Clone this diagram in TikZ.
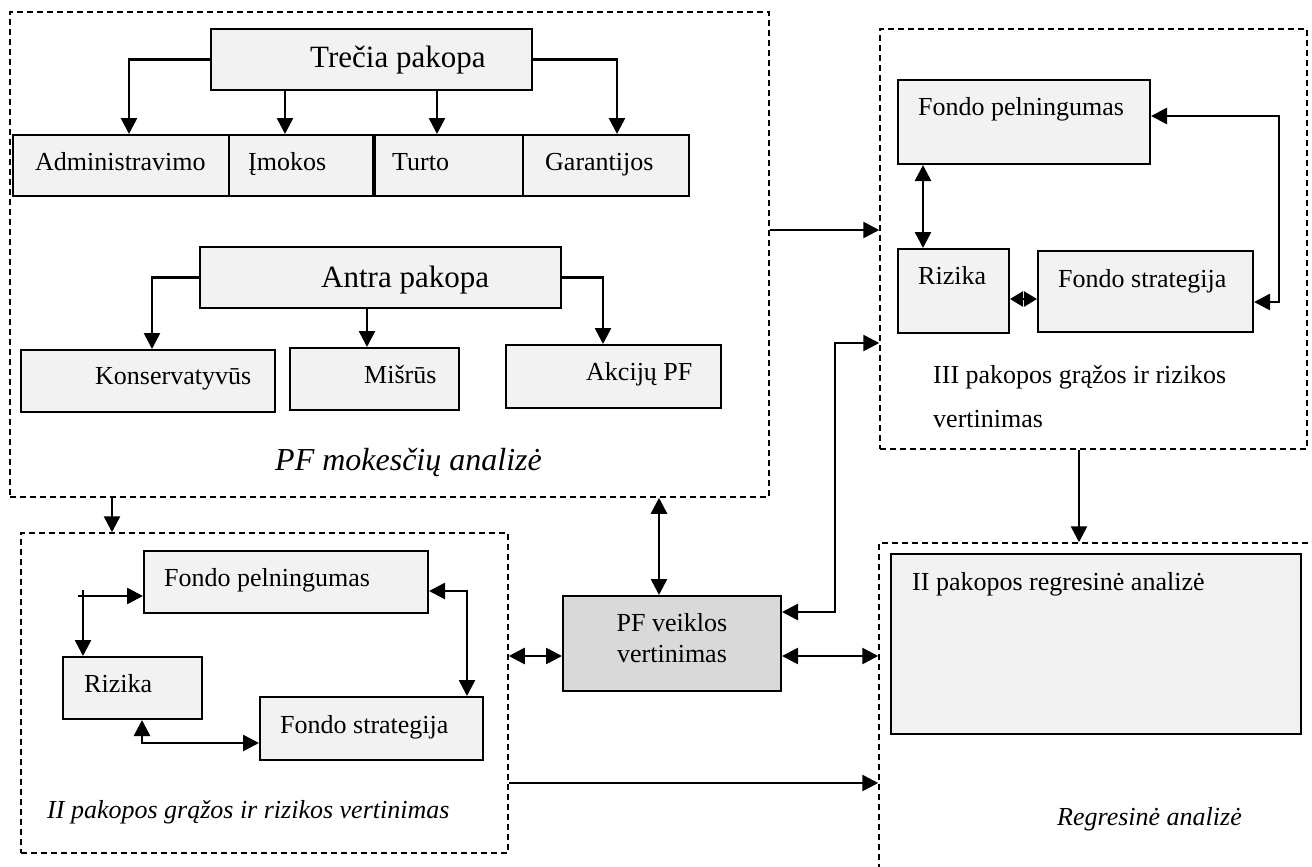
\documentclass[tikz,border=0pt]{standalone}
\usepackage{fontspec}
\setmainfont{Liberation Serif}
\usetikzlibrary{arrows.meta,fit,calc}
\definecolor{boxfill}{HTML}{F2F2F2}
\definecolor{pfvfill}{HTML}{D9D9D9}
\begin{document}
\begin{tikzpicture}[x=1pt,y=-1pt,
  box/.style={draw,line width=2pt,fill=boxfill,inner sep=0pt},
  grp/.style={draw,line width=1.5pt,dash pattern=on 6pt off 4pt,inner sep=0pt},
  arr/.style={line width=2.6pt,-{Triangle[length=16pt,width=16pt]}},
  darr/.style={line width=2.6pt,{Triangle[length=16pt,width=16pt]}-{Triangle[length=16pt,width=16pt]}},
  sdarr/.style={line width=2.6pt,{Triangle[length=13pt,width=15pt]}-{Triangle[length=13pt,width=15pt]}},
  txt/.style={inner sep=0pt,anchor=base west,font=\fontsize{26}{30}\selectfont},
  big/.style={inner sep=0pt,anchor=base west,font=\fontsize{31}{36}\selectfont},
  itx/.style={inner sep=0pt,anchor=base west,font=\fontsize{26}{30}\selectfont\itshape},
  ibig/.style={inner sep=0pt,anchor=base west,font=\fontsize{32}{36}\selectfont\itshape}]
\useasboundingbox (0,0) rectangle (1312,867);
\clip (0,0) rectangle (1312,867);

% group frames
\node[grp,fit={(10,12) (769,497)}] (g1) {};
\node[grp,fit={(21,533) (508,853)}] (g2) {};
\node[grp,fit={(880,29) (1307,449)}] (g3) {};
\node[grp,fit={(879,543) (1340,890)}] (g4) {};

% PF mokesciu analize
\node[box,fit={(211,29) (532,90)}] (t3) {};
\node[big] (t3t) at (310,68) {Trečia pakopa};
\node[box,fit={(13,135) (229,196)}] (adm) {};
\node[txt] (admt) at (35,170) {Administravimo};
\node[box,fit={(229,135) (373,196)}] (imk) {};
\node[txt] (imkt) at (248,170) {Įmokos};
\node[box,fit={(375,135) (523,196)}] (tur) {};
\node[txt] (turt) at (392,170) {Turto};
\node[box,fit={(523,135) (689,196)}] (gar) {};
\node[txt] (gart) at (545,170) {Garantijos};

\node[box,fit={(200,247) (561,308)}] (a2) {};
\node[big] (a2t) at (321,287) {Antra pakopa};
\node[box,fit={(21,350) (275,412)}] (kon) {};
\node[txt] (kont) at (95,384) {Konservatyvūs};
\node[box,fit={(290,348) (459,410)}] (mis) {};
\node[txt] (mist) at (364,383) {Mišrūs};
\node[box,fit={(506,345) (721,408)}] (akc) {};
\node[txt] (akct) at (586,380) {Akcijų PF};
\node[ibig] (g1t) at (275,470) {PF mokesčių analizė};

% III pakopa
\node[box,fit={(898,80) (1150,164)}] (fp3) {};
\node[txt] (fp3t) at (918,115) {Fondo pelningumas};
\node[box,fit={(898,249) (1009,333)}] (r3) {};
\node[txt] (r3t) at (918,284) {Rizika};
\node[box,fit={(1038,251) (1253,332)}] (fs3) {};
\node[txt] (fs3t) at (1058,287) {Fondo strategija};
\node[txt] (g3t1) at (933,383) {III pakopos grąžos ir rizikos};
\node[txt] (g3t2) at (933,427) {vertinimas};

% II pakopa
\node[box,fit={(144,551) (428,613)}] (fp2) {};
\node[txt] (fp2t) at (164,586) {Fondo pelningumas};
\node[box,fit={(63,657) (202,719)}] (r2) {};
\node[txt] (r2t) at (84,692) {Rizika};
\node[box,fit={(260,697) (483,760)}] (fs2) {};
\node[txt] (fs2t) at (280,733) {Fondo strategija};
\node[itx] (g2t) at (47,818) {II pakopos grąžos ir rizikos vertinimas};

% PF veiklos vertinimas
\node[box,fill=pfvfill,fit={(563,596) (781,691)}] (pfv) {};
\node[inner sep=0pt,anchor=base,font=\fontsize{26}{30}\selectfont] (pfvt1) at (672,631) {PF veiklos};
\node[inner sep=0pt,anchor=base,font=\fontsize{26}{30}\selectfont] (pfvt2) at (672,662) {vertinimas};

% regresine analize
\node[box,fit={(891,554) (1301,734)}] (reg) {};
\node[txt] (regt) at (912,590) {II pakopos regresinė analizė};
\node[itx] (g4t) at (1057,825) {Regresinė analizė};

% guide coordinates
\coordinate (xA) at (129,0);
\coordinate (xB) at (285,0);
\coordinate (xC) at (437,0);
\coordinate (xD) at (617,0);
\coordinate (xE) at (152,0);
\coordinate (xF) at (367,0);
\coordinate (xG) at (603,0);
\coordinate (xH) at (112,0);
\coordinate (xI) at (659,0);
\coordinate (xK) at (1079,0);
\coordinate (xL) at (923,0);
\coordinate (xM) at (1279,0);
\coordinate (xO) at (467,0);
\coordinate (xP) at (142,0);
\coordinate (yA) at (0,230);
\coordinate (yB) at (0,343);
\coordinate (yC) at (0,612);
\coordinate (yD) at (0,656);
\coordinate (yF) at (0,783);
\coordinate (yG) at (0,116);
\coordinate (yH) at (0,302);
\coordinate (yI) at (0,299);
\coordinate (yK) at (0,591);
\coordinate (yL) at (0,743);
\coordinate (tj) at (83,590);
\coordinate (tk) at (78,596);
\coordinate (rb) at (835,343);

% tree arrows
\draw[arr] (t3.west) -| (adm.north -| xA);
\draw[arr] (t3.south -| xB) -- (imk.north -| xB);
\draw[arr] (t3.south -| xC) -- (tur.north -| xC);
\draw[arr] (t3.east) -| (gar.north -| xD);
\draw[arr] (a2.west) -| (kon.north -| xE);
\draw[arr] (a2.south -| xF) -- (mis.north -| xF);
\draw[arr] (a2.east) -| (akc.north -| xG);

% between groups
\draw[arr] (g1.south -| xH) -- (g2.north -| xH);
\draw[darr] (g1.south -| xI) -- (pfv.north -| xI);
\draw[darr] (g2.east |- yD) -- (pfv.west |- yD);
\draw[darr] (pfv.east |- yD) -- (g4.west |- yD);
\draw[arr] (g1.east |- yA) -- (g3.west |- yA);
\draw[arr] (g2.east |- yF) -- (g4.west |- yF);
\draw[arr] (g3.south -| xK) -- (g4.north -| xK);
\draw[darr] (g3.west |- yB) -- (rb) |- (pfv.east |- yC);

% III internal
\draw[darr] (fp3.south -| xL) -- (r3.north -| xL);
\draw[sdarr] (r3.east |- yI) -- (fs3.west |- yI);
\draw[darr] (fp3.east |- yG) -| (xM |- yH) -- (fs3.east |- yH);

% II internal
\draw[arr] (tk) -- (fp2.west |- tk);
\draw[arr] (tj) -- (r2.north -| tj);
\draw[darr] (fp2.east |- yK) -| (fs2.north -| xO);
\draw[darr] (r2.south -| xP) |- (fs2.west |- yL);
\end{tikzpicture}
\end{document}
